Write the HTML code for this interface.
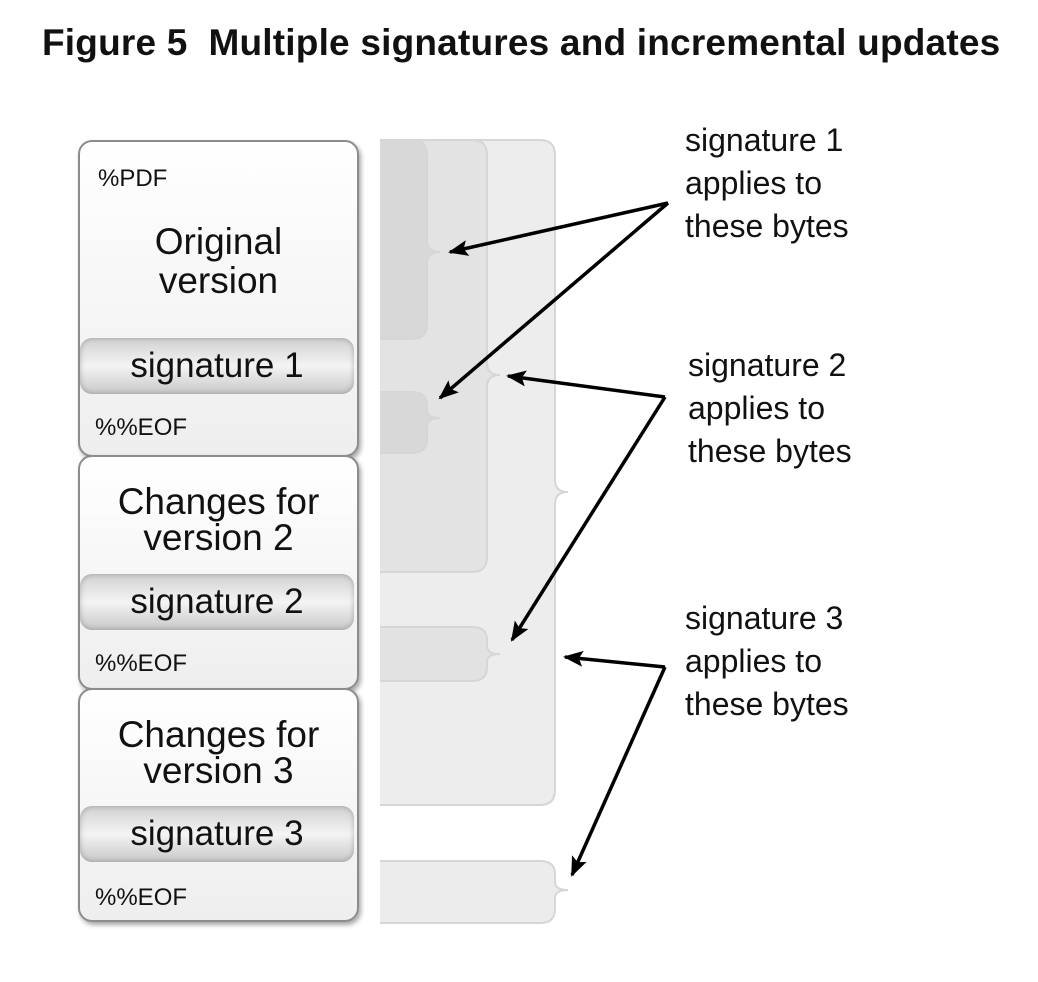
<!DOCTYPE html>
<html><head><style>
body{margin:0;width:1038px;height:982px;background:#fff;font-family:"Liberation Sans",sans-serif;position:relative;overflow:hidden}
.t{position:absolute;color:#111}
.box{position:absolute;left:78px;width:277px;border:2px solid #8c8c8c;border-radius:14px;background:linear-gradient(#ffffff,#eeeeee);box-shadow:2px 3px 5px rgba(0,0,0,.35)}
.sig{position:absolute;left:80px;width:274px;height:56px;border-radius:12px;background:linear-gradient(#d0d0d0,#f4f4f4 50%,#c8c8c8);box-shadow:inset 0 0 6px rgba(0,0,0,.25);font-size:35px;text-align:center;line-height:56px;color:#111}
.lbl{position:absolute;left:685px;font-size:32px;line-height:43px;color:#111}
.pdf{font-size:24px}
</style></head><body>
<div class="t" style="left:42px;top:22px;font-size:37px;font-weight:bold;letter-spacing:0.2px">Figure 5&nbsp; Multiple signatures and incremental updates</div>

<svg width="1038" height="982" style="position:absolute;left:0;top:0">
<g stroke="#d6d6d6" stroke-width="2">
<path d="M380,140 H540 Q555,140 555,155 V480 Q555,492 568,492 Q555,492 555,504 V790 Q555,805 540,805 H380" fill="#ededed"/>
<path d="M380,140 H472 Q487,140 487,155 V363 Q487,375 500,375 Q487,375 487,387 V557 Q487,572 472,572 H380" fill="#e3e3e3"/>
<path d="M380,140 H412 Q427,140 427,155 V240 Q427,252 440,252 Q427,252 427,264 V324 Q427,339 412,339 H380" fill="#d8d8d8"/>
<path d="M380,392 H412 Q427,392 427,405 V410 Q427,418 440,418 Q427,418 427,426 V439 Q427,453 412,453 H380" fill="#d8d8d8"/>
<path d="M380,627 H472 Q487,627 487,640 V646 Q487,654 500,654 Q487,654 487,662 V667 Q487,681 472,681 H380" fill="#e2e2e2"/>
<path d="M380,861 H540 Q555,861 555,874 V882 Q555,890 568,890 Q555,890 555,898 V909 Q555,923 540,923 H380" fill="#ececec"/>
</g>
<defs>
<marker id="b" viewBox="0 0 10 8" markerWidth="24" markerHeight="16" refX="9" refY="4" orient="auto" markerUnits="userSpaceOnUse"><path d="M0,0 L10,4 L0,8 L2,4Z" fill="#000"/></marker></defs>
<g stroke="#000" stroke-width="3.5" fill="none">
<path d="M668,203 L450,252" marker-end="url(#b)"/>
<path d="M668,203 L440,398" marker-end="url(#b)"/>
<path d="M665,397 L508,376" marker-end="url(#b)"/>
<path d="M665,397 L512,640" marker-end="url(#b)"/>
<path d="M665,667 L565,657" marker-end="url(#b)"/>
<path d="M665,667 L572,875" marker-end="url(#b)"/>
</g>
</svg>

<div class="box" style="top:140px;height:313px"></div>
<div class="box" style="top:455px;height:231px"></div>
<div class="box" style="top:688px;height:230px"></div>

<div class="t pdf" style="left:98px;top:165px">%PDF</div>
<div class="t" style="left:78px;width:281px;text-align:center;top:222px;font-size:37px;line-height:39px">Original<br>version</div>
<div class="sig" style="top:338px">signature 1</div>
<div class="t pdf" style="left:95px;top:414px">%%EOF</div>

<div class="t" style="left:78px;width:281px;text-align:center;top:484px;font-size:37px;line-height:36px">Changes for<br>version 2</div>
<div class="sig" style="top:574px">signature 2</div>
<div class="t pdf" style="left:95px;top:650px">%%EOF</div>

<div class="t" style="left:78px;width:281px;text-align:center;top:717px;font-size:37px;line-height:36px">Changes for<br>version 3</div>
<div class="sig" style="top:806px">signature 3</div>
<div class="t pdf" style="left:95px;top:884px">%%EOF</div>

<div class="lbl" style="top:119px">signature 1<br>applies to<br>these bytes</div>
<div class="lbl" style="top:344px;left:688px">signature 2<br>applies to<br>these bytes</div>
<div class="lbl" style="top:597px">signature 3<br>applies to<br>these bytes</div>
</body></html>
